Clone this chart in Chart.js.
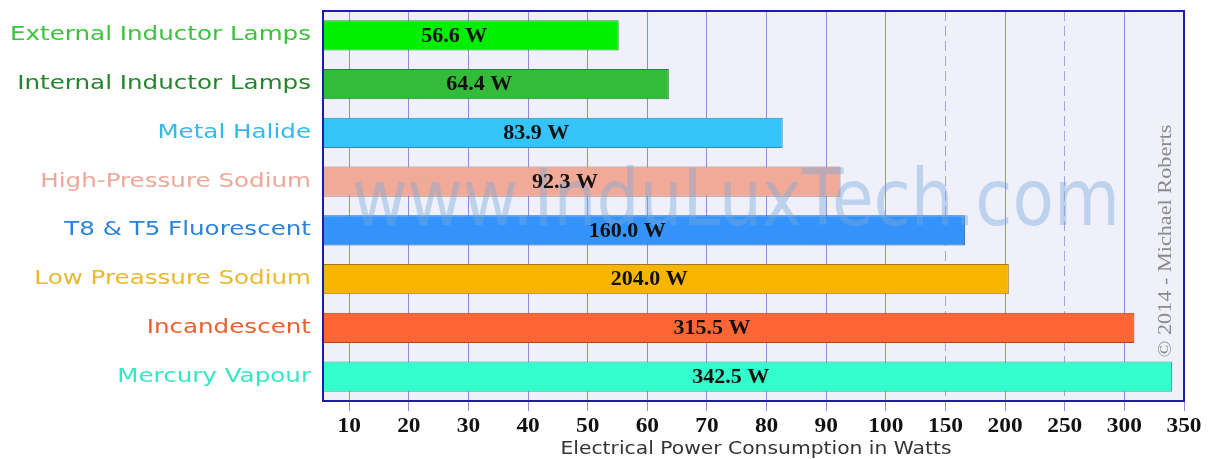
<!DOCTYPE html>
<html>
<head>
<meta charset="utf-8">
<title>Lamp power consumption</title>
<script src="https://cdn.jsdelivr.net/npm/chart.js@4.4.1/dist/chart.umd.min.js"></script>
<style>
  html, body { margin: 0; padding: 0; background: #ffffff; }
  #wrap { width: 1210px; height: 459px; position: relative; }
</style>
</head>
<body>
<div id="wrap"><canvas id="powerChart"></canvas></div>
<script>
// data
var lampTypes = ["External Inductor Lamps", "Internal Inductor Lamps", "Metal Halide", "High-Pressure Sodium",
                 "T8 & T5 Fluorescent", "Low Preassure Sodium", "Incandescent", "Mercury Vapour"];
// printed values
var watts = [56.6, 64.4, 83.9, 92.3, 160.0, 204.0, 315.5, 342.5];
// bar lengths as drawn in the picture (they stop a little short of some printed values)
var barLengths = [55.2, 63.6, 82.7, 92.4, 166.3, 203.1, 308.4, 340.0];
var wattTicks = [10, 20, 30, 40, 50, 60, 70, 80, 90, 100, 150, 200, 250, 300, 350];
var dashedTicks = [150, 250];

var barColors  = ['#00ee00', '#33bb3a', '#33c4fa', '#f2aa98', '#3393fa', '#f7b500', '#ff6633', '#33ffcc'];
var edgeColors = ['#2aa02a', '#228a28', '#2a8ab8', '#b07870', '#2262b0', '#a07a10', '#b04424', '#28a890'];
var nameColors = ['#3cc23c', '#24852c', '#35b8ea', '#eca898', '#2a82da', '#eab82a', '#e8602c', '#33e8c4'];

// below 100 W the axis goes in steps of 10, above it in steps of 50, each step the same width
function warp(v) {
    return v <= 100 ? v : 100 + (v - 100) / 5;
}
function unwarp(w) {
    return w <= 100 ? w : 100 + (w - 100) * 5;
}

class PiecewiseScale extends Chart.LinearScale {
    buildTicks() {
        var min = this.min, max = this.max;
        return wattTicks.filter(function(v){ return v >= min && v <= max; }).map(function(v){ return {value: v}; });
    }
    getPixelForValue(value) {
        var lo = warp(this.min), hi = warp(this.max);
        return this.getPixelForDecimal((warp(value) - lo) / (hi - lo));
    }
    getValueForPixel(pixel) {
        var lo = warp(this.min), hi = warp(this.max);
        return unwarp(lo + this.getDecimalForPixel(pixel) * (hi - lo));
    }
}
PiecewiseScale.id = 'piecewise';
PiecewiseScale.defaults = Chart.LinearScale.defaults;
Chart.register(PiecewiseScale);

// the original lettering is wider than any installed face, so stretch it sideways
function wideText(c, text, x, y, sx, align) {
    c.save();
    c.translate(x, y);
    c.scale(sx, 1);
    c.textAlign = align;
    c.fillText(text, 0, 0);
    c.restore();
}

var plotBackground = {
    id: 'plotBackground',
    beforeDraw: function(chart) {
        var a = chart.chartArea, c = chart.ctx;
        c.save();
        c.fillStyle = '#eff0fa';
        c.fillRect(a.left, a.top, a.right - a.left, a.bottom - a.top);
        c.restore();
    },
    afterDraw: function(chart) {
        var a = chart.chartArea, c = chart.ctx;
        c.save();
        c.strokeStyle = '#1c1ca8';
        c.lineWidth = 2;
        c.strokeRect(a.left, a.top, a.right - a.left, a.bottom - a.top);
        c.restore();
    }
};

var axisText = {
    id: 'axisText',
    afterDraw: function(chart) {
        var c = chart.ctx, xs = chart.scales.x, ys = chart.scales.y;
        c.save();
        c.textBaseline = 'alphabetic';

        // lamp names
        c.font = '20px "DejaVu Sans"';
        var sx = 301 / c.measureText(lampTypes[0]).width;
        lampTypes.forEach(function(name, i) {
            c.fillStyle = nameColors[i];
            wideText(c, name, 311, ys.getPixelForTick(i) + 5, sx, 'right');
        });

        // tick numbers
        c.font = 'bold 20px "Liberation Serif"';
        c.fillStyle = '#111111';
        xs.ticks.forEach(function(t) {
            wideText(c, String(t.value), xs.getPixelForValue(t.value), 432, 1.17, 'center');
        });

        // axis title
        var title = 'Electrical Power Consumption in Watts';
        c.font = '18px "DejaVu Sans"';
        c.fillStyle = '#333333';
        wideText(c, title, 756, 454, 391 / c.measureText(title).width, 'center');
        c.restore();
    }
};

var barText = {
    id: 'barText',
    afterDatasetsDraw: function(chart) {
        var c = chart.ctx;
        c.save();
        // watermark
        c.font = '78px "DejaVu Sans"';
        var mark = 'www.InduLuxTech.com';
        var w = c.measureText(mark).width;
        c.fillStyle = 'rgba(120,170,220,0.42)';
        c.textBaseline = 'alphabetic';
        c.translate(352, 225);
        c.scale(768 / w, 1);
        c.textAlign = 'left';
        c.fillText(mark, 0, 0);
        c.setTransform(1, 0, 0, 1, 0, 0);

        // value labels
        var meta = chart.getDatasetMeta(0);
        c.font = 'bold 20px "Liberation Serif"';
        c.fillStyle = '#111111';
        c.textBaseline = 'middle';
        meta.data.forEach(function(bar, i) {
            wideText(c, watts[i].toFixed(1) + ' W', (bar.x + bar.base) / 2, bar.y + 1, 1.1, 'center');
        });

        // copyright
        var note = '\u00a9 2014 - Michael Roberts';
        c.translate(1166, 241);
        c.rotate(-Math.PI / 2);
        c.font = '19px "Liberation Serif"';
        c.fillStyle = '#8a8a8a';
        c.scale(233 / c.measureText(note).width, 1);
        c.textAlign = 'center';
        c.fillText(note, 0, 0);
        c.restore();
    }
};

var ctx = document.getElementById('powerChart').getContext('2d');
var powerChart = new Chart(ctx, {
    type: 'bar',
    data: {
        labels: lampTypes,
        datasets: [{
            data: barLengths,
            backgroundColor: barColors,
            borderColor: edgeColors,
            borderWidth: 1,
            borderSkipped: false,
            categoryPercentage: 1.0,
            barPercentage: 0.625
        }]
    },
    options: {
        indexAxis: 'y',
        responsive: true,
        maintainAspectRatio: false,
        animation: false,
        layout: { padding: { left: 0, right: 26, top: 11, bottom: 3 } },
        plugins: {
            legend: { display: false },
            tooltip: { enabled: false }
        },
        scales: {
            x: {
                type: 'piecewise',
                min: 5.6,
                max: 350,
                afterFit: function(scale) {
                    scale.height = 55;
                    scale.paddingLeft = 0;
                    scale.paddingRight = 0;
                },
                grid: {
                    color: function(c) {
                        return c.tick && dashedTicks.indexOf(c.tick.value) >= 0 ? '#a4a4ec' : '#8c8ce0';
                    },
                    lineWidth: 1,
                    drawTicks: true,
                    tickLength: 10,
                    tickColor: '#8c8ce0'
                },
                border: {
                    display: false,
                    dash: function(c) {
                        return c.tick && dashedTicks.indexOf(c.tick.value) >= 0 ? [10, 5] : [];
                    }
                },
                ticks: { display: false, autoSkip: false, maxRotation: 0 }
            },
            y: {
                afterFit: function(scale) {
                    scale.width = 323;
                    scale.paddingTop = 0;
                    scale.paddingBottom = 0;
                },
                grid: { display: false },
                border: { display: false },
                ticks: { display: false }
            }
        }
    },
    plugins: [plotBackground, barText, axisText]
});
</script>
</body>
</html>
